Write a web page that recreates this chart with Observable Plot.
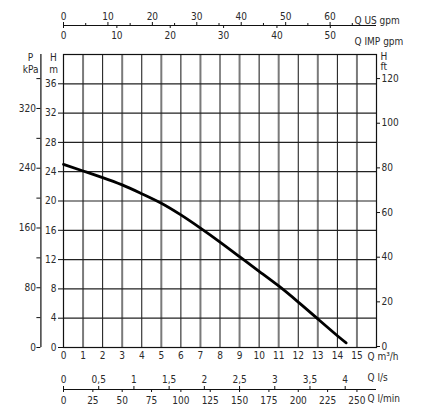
<!DOCTYPE html>
<html>
<head>
<meta charset="utf-8">
<script src="https://cdn.jsdelivr.net/npm/d3@7"></script>
<script src="https://cdn.jsdelivr.net/npm/@observablehq/plot@0.6"></script>
<style>
  html, body { margin: 0; padding: 0; background: #fff; }
  svg text { font-stretch: condensed; }
</style>
</head>
<body>
<div id="chart"></div>
<script>
// Pump curve: flow Q (m³/h) vs head H (m)
const flowM3h = [0, 1, 2, 3, 4, 5, 6, 7, 8, 9, 10, 11, 12, 13, 14, 14.45];
const headM   = [25, 24.1, 23.2, 22.2, 21.0, 19.7, 18.1, 16.3, 14.4, 12.4, 10.4, 8.4, 6.2, 3.9, 1.6, 0.64];

// Tick labels of each scale
const qM3hTicks   = [0,1,2,3,4,5,6,7,8,9,10,11,12,13,14,15];
const gridQEven   = [0,2,4,6,8,10,12,14,16];
const gridQOdd    = [1,3,5,7,9,11,13,15];
const headTicks   = [0,4,8,12,16,20,24,28,32,36];
const headGrid    = [0,4,8,12,16,20,24,28,32,36,40];
const usGpmTicks  = [0,10,20,30,40,50,60];
const usGpmMinor  = [5,15,25,35,45,55,65];
const impGpmTicks = [0,10,20,30,40,50];
const lsTicks     = [0,0.5,1,1.5,2,2.5,3,3.5,4];
const lminTicks   = [0,25,50,75,100,125,150,175,200,225,250];
const kpaTicks    = [0,80,160,240,320];
const kpaMinor    = [40,120,200,280,360];
const ftTicks     = [0,20,40,60,80,100,120];

// Unit names
const unitLabels = {
  us: "Q US gpm", imp: "Q IMP gpm", m3h: "Q m³/h", ls: "Q l/s", lmin: "Q l/min",
  pTop: "P", pUnit: "kPa", hTop: "H", hUnit: "m", ftTop: "H", ftUnit: "ft"
};

// Unit conversions
const US_PER_M3H = 4.402868;
const IMP_PER_M3H = 3.666154;
const M3H_PER_LS = 3.6;
const M3H_PER_LMIN = 0.06;
const KPA_PER_M = 9.80665;
const FT_PER_M = 3.28084;

const curve = flowM3h.map((q, i) => ({q, h: headM[i]}));
const fmtComma = v => String(v).replace(".", ",");
const font = "'DejaVu Sans', sans-serif";
const textColor = "#2a2a2a";
const FS = 10;

const chart = Plot.plot({
  width: 423,
  height: 420,
  marginLeft: 63,
  marginRight: 47,
  marginTop: 54,
  marginBottom: 73,
  style: {fontFamily: font, fontSize: FS + "px", color: textColor, background: "#fff"},
  x: {domain: [0, 16], axis: null},
  y: {domain: [0, 40], axis: null},
  marks: [
    // grid
    Plot.ruleX(gridQOdd, {stroke: "#7a7a7a", strokeWidth: 2}),
    Plot.ruleX(gridQEven, {stroke: "#111", strokeWidth: 1}),
    Plot.ruleY(headGrid, {stroke: "#222", strokeWidth: 1.2}),
    Plot.frame({stroke: "#111", strokeWidth: 1.2}),

    // main axes: H (m) left, Q (m³/h) bottom, H (ft) right
    Plot.axisY(headTicks, {anchor: "left", label: null, tickSize: 5, tickPadding: 2, stroke: "#111", fontSize: FS}),
    Plot.axisX(qM3hTicks, {anchor: "bottom", label: null, tickSize: 0, tickPadding: 4, fontSize: FS}),
    Plot.axisY(ftTicks.map(f => f / FT_PER_M), {anchor: "right", label: null, dy: -1, tickSize: 3, tickPadding: 2, stroke: "#111",
      fontSize: FS, tickFormat: d => Math.round(d * FT_PER_M)}),

    // P (kPa) axis on the far left
    Plot.ruleX([0], {dx: -22.6, stroke: "#111", strokeWidth: 1.2}),
    Plot.axisY(kpaTicks.map(k => k / KPA_PER_M), {anchor: "left", label: null, dx: -22.6, tickSize: 4, tickPadding: 1,
      stroke: "#111", fontSize: FS, tickFormat: d => Math.round(d * KPA_PER_M)}),
    Plot.axisY(kpaMinor.map(k => k / KPA_PER_M), {anchor: "left", label: null, dx: -22.6, tickSize: 4, stroke: "#111",
      tickFormat: () => ""}),

    // top: US gpm (ticks up) and IMP gpm (ticks down)
    Plot.ruleY([40], {dy: -29, stroke: "#111", strokeWidth: 1.2}),
    Plot.axisX(usGpmTicks.map(g => g / US_PER_M3H), {anchor: "top", label: null, dy: -29, tickSize: 4, tickPadding: 2,
      stroke: "#111", fontSize: FS, tickFormat: d => Math.round(d * US_PER_M3H)}),
    Plot.axisX(usGpmMinor.map(g => g / US_PER_M3H), {anchor: "top", label: null, dy: -29, tickSize: 3, stroke: "#111",
      tickFormat: () => ""}),
    Plot.axisX(impGpmTicks.map(g => g / IMP_PER_M3H), {anchor: "bottom", label: null, dy: -322, tickSize: 3, tickPadding: 3,
      stroke: "#111", fontSize: FS, tickFormat: d => Math.round(d * IMP_PER_M3H)}),

    // bottom: l/s (ticks up) and l/min (ticks down)
    Plot.ruleY([0], {dy: 42, stroke: "#111", strokeWidth: 1.2}),
    Plot.axisX(lsTicks.map(v => v * M3H_PER_LS), {anchor: "top", label: null, dy: 335, tickSize: 4, tickPadding: 3,
      stroke: "#111", fontSize: FS, tickFormat: d => fmtComma(Math.round(d / M3H_PER_LS * 10) / 10)}),
    Plot.axisX(lminTicks.map(v => v * M3H_PER_LMIN), {anchor: "bottom", label: null, dy: 42, tickSize: 3, tickPadding: 4,
      stroke: "#111", fontSize: FS, tickFormat: d => Math.round(d / M3H_PER_LMIN)}),

    // unit names
    Plot.text([unitLabels.us],  {frameAnchor: "top-right", textAnchor: "start", dx: -22, dy: -38}),
    Plot.text([unitLabels.imp], {frameAnchor: "top-right", textAnchor: "start", dx: -22, dy: -17}),
    Plot.text([unitLabels.m3h], {frameAnchor: "bottom-right", textAnchor: "start", dx: -9, dy: 12}),
    Plot.text([unitLabels.ls],  {frameAnchor: "bottom-right", textAnchor: "start", dx: -9, dy: 33}),
    Plot.text([unitLabels.lmin],{frameAnchor: "bottom-right", textAnchor: "start", dx: -9, dy: 54}),
    Plot.text([unitLabels.pTop],  {frameAnchor: "top-left", textAnchor: "middle", dx: -33, dy: -1}),
    Plot.text([unitLabels.pUnit], {frameAnchor: "top-left", textAnchor: "end", dx: -25, dy: 11}),
    Plot.text([unitLabels.hTop],  {frameAnchor: "top-left", textAnchor: "middle", dx: -10, dy: -1}),
    Plot.text([unitLabels.hUnit], {frameAnchor: "top-left", textAnchor: "middle", dx: -10, dy: 11}),
    Plot.text([unitLabels.ftTop], {frameAnchor: "top-right", textAnchor: "start", dx: 4, dy: -2}),
    Plot.text([unitLabels.ftUnit],{frameAnchor: "top-right", textAnchor: "start", dx: 4, dy: 8}),

    // pump curve
    Plot.line(curve, {x: "q", y: "h", stroke: "#000", strokeWidth: 2.8, curve: "natural"})
  ]
});
document.getElementById("chart").appendChild(chart);
</script>
</body>
</html>
